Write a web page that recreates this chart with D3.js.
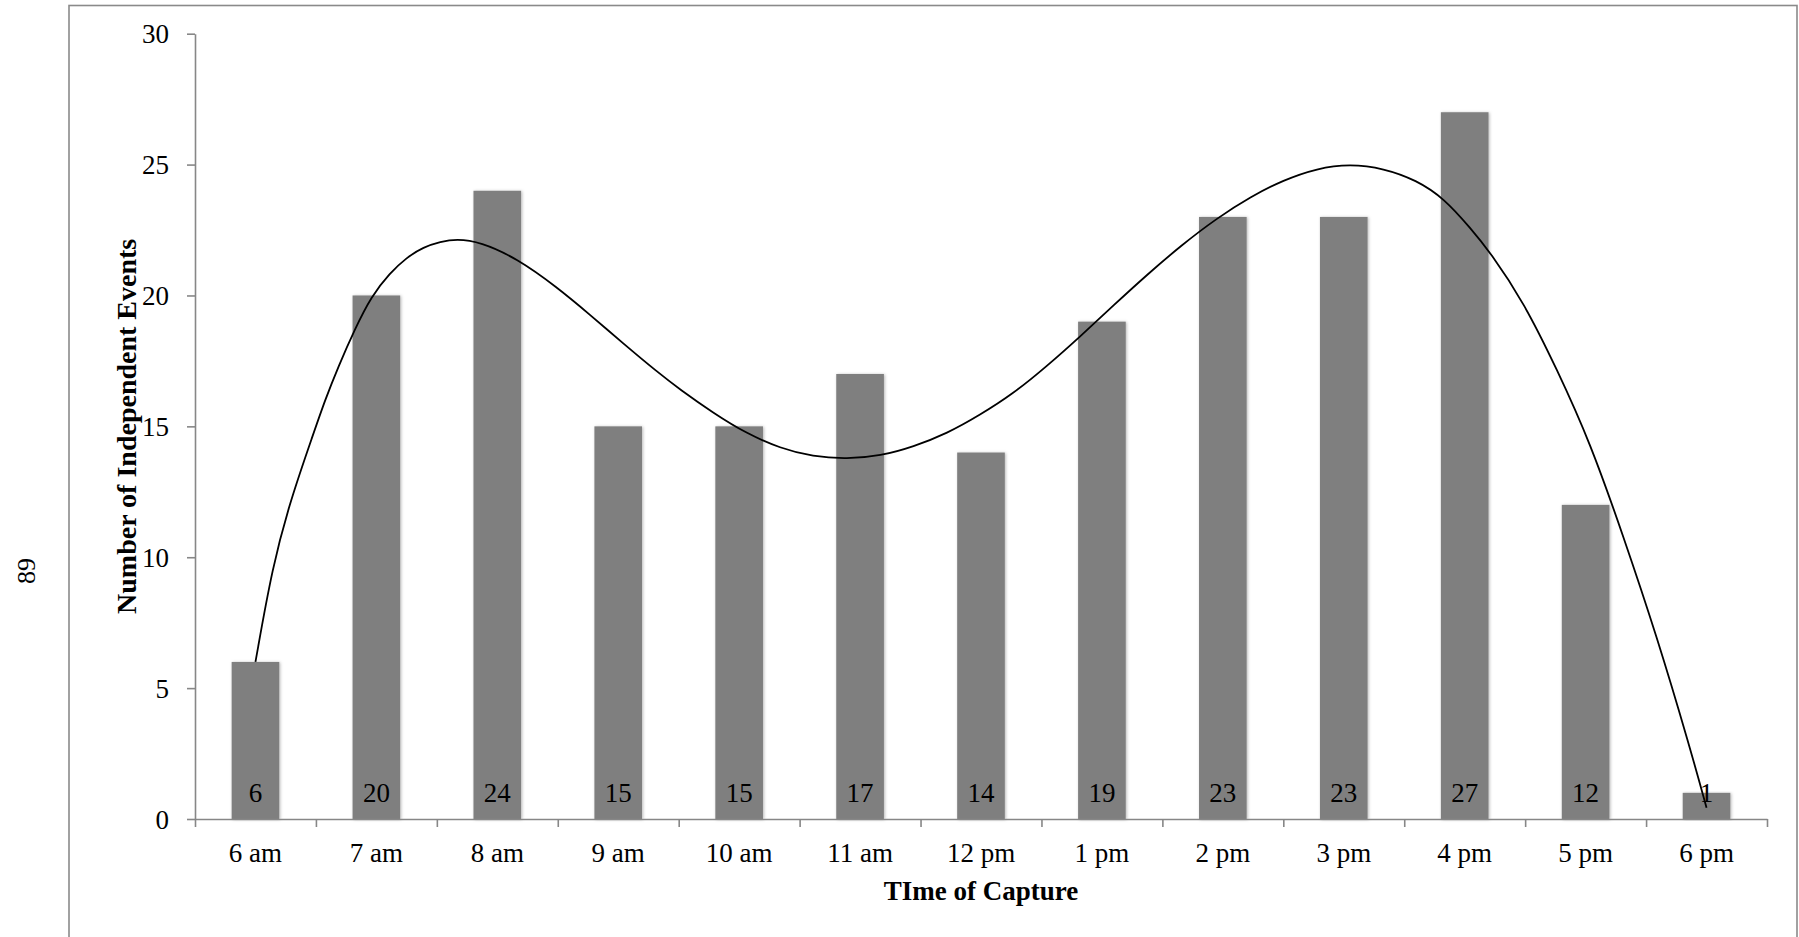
<!DOCTYPE html>
<html>
<head>
<meta charset="utf-8">
<script src="https://cdn.jsdelivr.net/npm/d3@7"></script>
<style>
  html, body { margin: 0; padding: 0; background: #fff; }
  svg { display: block; }
  text { font-family: "Liberation Serif", "Times New Roman", serif; fill: #000; }
</style>
</head>
<body>
<svg id="chart" width="1799" height="937"></svg>
<script>
// Hourly capture counts
const categories = ["6 am", "7 am", "8 am", "9 am", "10 am", "11 am", "12 pm",
                    "1 pm", "2 pm", "3 pm", "4 pm", "5 pm", "6 pm"];
const counts = [6, 20, 24, 15, 15, 17, 14, 19, 23, 23, 27, 12, 1];
const yTicks = [0, 5, 10, 15, 20, 25, 30];

// Polynomial trendline, sampled along the hour axis (6 = 6 am, 18 = 6 pm)
const trendHour = [6.00, 6.14, 6.29, 6.48, 6.575, 6.685, 6.82, 6.96, 7.11, 7.25, 7.39, 7.53,
                   7.66, 7.86, 8.16, 8.49, 8.77, 9.04, 9.32, 9.51, 9.79, 10.06, 10.34, 10.61,
                   10.89, 11.17, 11.44, 11.72, 11.99, 12.27, 12.54, 12.82, 13.10, 13.37, 13.66,
                   13.95, 14.23, 14.50, 14.78, 15.05, 15.33, 15.60, 15.83, 16.05, 16.21, 16.49,
                   16.76, 17.04, 17.31, 17.59, 17.86, 18.00];
const trendValue = [6.0, 9.64, 12.19, 14.73, 16.0, 17.28, 18.7, 19.98, 20.85, 21.45, 21.85, 22.05,
                    22.16, 22.05, 21.42, 20.33, 19.25, 18.17, 17.09, 16.41, 15.5, 14.73, 14.16, 13.84,
                    13.75, 13.87, 14.22, 14.73, 15.43, 16.26, 17.28, 18.43, 19.64, 20.78, 21.93,
                    22.95, 23.77, 24.41, 24.86, 25.02, 24.86, 24.41, 23.71, 22.56, 21.66, 19.73,
                    17.21, 14.36, 10.83, 6.97, 2.78, 0.43];

const svg = d3.select("#chart");
const plot = { left: 195, right: 1767, top: 33.7, bottom: 819 };
const axisColor = "#878787";

// Page frame
svg.append("rect")
  .attr("x", 69).attr("y", 5.5)
  .attr("width", 1728).attr("height", 1000)
  .attr("fill", "none").attr("stroke", "#8a8a8a").attr("stroke-width", 1.6);

// Page number
svg.append("text")
  .attr("transform", "translate(35,571) rotate(-90)")
  .attr("text-anchor", "middle")
  .style("font-size", "26px")
  .text("89");

// Soft shadow on the bars
const defs = svg.append("defs");
const f = defs.append("filter").attr("id", "barShadow")
  .attr("x", "-20%").attr("y", "-5%").attr("width", "140%").attr("height", "110%");
f.append("feDropShadow").attr("dx", 1).attr("dy", 0.5)
  .attr("stdDeviation", 1.6).attr("flood-color", "#000").attr("flood-opacity", 0.28);

const x = d3.scaleBand()
  .domain(categories)
  .range([plot.left, plot.right])
  .paddingInner(0.606)
  .paddingOuter(0.303);

const y = d3.scaleLinear().domain([0, 30]).range([plot.bottom, plot.top]);

// Hour positions map onto band centres
const xHour = d3.scaleLinear()
  .domain([6, 18])
  .range([x(categories[0]) + x.bandwidth() / 2, x(categories[categories.length - 1]) + x.bandwidth() / 2]);

// Bars
svg.append("g")
  .selectAll("rect")
  .data(counts)
  .join("rect")
  .attr("x", (d, i) => x(categories[i]))
  .attr("y", d => y(d))
  .attr("width", x.bandwidth())
  .attr("height", d => y(0) - y(d))
  .attr("fill", "#7f7f7f")
  .attr("filter", "url(#barShadow)");

// Y axis
const yAxis = svg.append("g")
  .attr("transform", `translate(${plot.left},0)`)
  .call(d3.axisLeft(y).tickValues(yTicks).tickSize(8).tickSizeOuter(0).tickPadding(18));
yAxis.selectAll("text").style("font-size", "27px").attr("dy", "0.34em");

// X axis: boundary ticks between categories
const xEdge = d3.scaleLinear().domain([0, categories.length]).range([plot.left, plot.right]);
const xAxis = svg.append("g")
  .attr("transform", `translate(0,${plot.bottom})`)
  .call(d3.axisBottom(xEdge).tickValues(d3.range(categories.length + 1))
        .tickFormat("").tickSize(8).tickSizeOuter(0));

// X axis: category labels
const xLabels = svg.append("g")
  .attr("transform", `translate(0,${plot.bottom})`)
  .call(d3.axisBottom(x).tickSize(0).tickSizeOuter(0));
xLabels.select(".domain").remove();
xLabels.selectAll("text").style("font-size", "27px").attr("y", 43).attr("dy", null);

[yAxis, xAxis].forEach(g => {
  g.selectAll("path, line").attr("stroke", axisColor).attr("stroke-width", 1.6);
  g.selectAll("text").attr("fill", "#000").style("font-family", "'Liberation Serif', serif");
});

// Value labels inside bars
svg.append("g")
  .selectAll("text")
  .data(counts)
  .join("text")
  .attr("x", (d, i) => x(categories[i]) + x.bandwidth() / 2)
  .attr("y", y(0) - 17)
  .attr("text-anchor", "middle")
  .style("font-size", "27px")
  .text(d => d);

// Trendline
const line = d3.line()
  .x((d, i) => xHour(trendHour[i]))
  .y(d => y(d))
  .curve(d3.curveBasis);
svg.append("path")
  .datum(trendValue)
  .attr("d", line)
  .attr("fill", "none")
  .attr("stroke", "#000")
  .attr("stroke-width", 1.8);

// Axis titles
svg.append("text")
  .attr("transform", `translate(136,${(plot.top + plot.bottom) / 2}) rotate(-90)`)
  .attr("text-anchor", "middle")
  .style("font-size", "28px")
  .style("font-weight", "bold")
  .text("Number of Independent Events");

svg.append("text")
  .attr("x", (plot.left + plot.right) / 2)
  .attr("y", 900)
  .attr("text-anchor", "middle")
  .style("font-size", "27px")
  .style("font-weight", "bold")
  .text("TIme of Capture");
</script>
</body>
</html>
